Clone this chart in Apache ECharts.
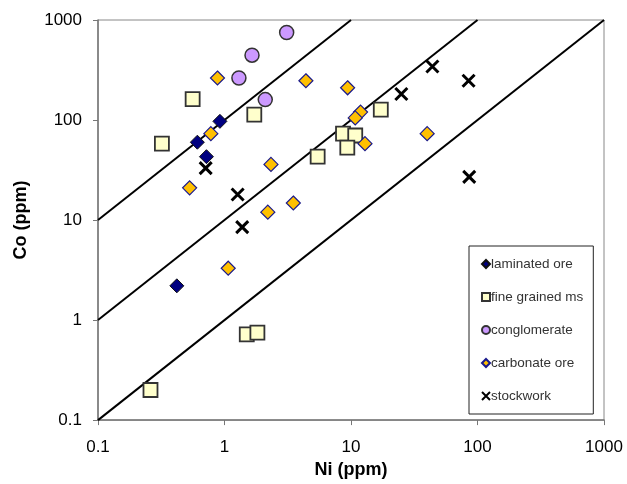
<!DOCTYPE html>
<html>
<head>
<meta charset="utf-8">
<script src="https://cdn.jsdelivr.net/npm/echarts@6/dist/echarts.min.js"></script>
<style>
  html, body { margin: 0; padding: 0; background: #fff; }
  #chart { width: 627px; height: 484px; }
</style>
</head>
<body>
<div id="chart"></div>
<script>
// [Ni, Co] in ppm
const laminatedOre = [[0.92, 97], [0.61, 60], [0.72, 43], [0.42, 2.2]];
const fineGrainedMs = [
  [0.32, 58], [0.56, 162], [1.72, 113], [5.45, 43], [8.65, 73], [10.8, 70],
  [9.35, 53], [17.2, 127], [1.5, 0.72], [1.82, 0.75], [0.26, 0.2]
];
const conglomerate = [[3.1, 750], [1.65, 445], [1.3, 263], [2.1, 160]];
const carbonateOre = [
  [0.88, 263], [4.4, 247], [9.4, 210], [0.78, 73], [2.33, 36], [0.53, 21],
  [3.5, 14.8], [2.2, 12], [1.07, 3.3], [11.9, 120], [10.8, 105], [12.9, 58], [40, 73]
];
const stockwork = [[0.71, 33], [1.27, 18], [1.38, 8.5], [25, 182], [44, 343], [85, 247], [86, 27]];

// reference lines Co/Ni = 100, 10, 1
const ratioLines = [
  [[0.1, 10], [10, 1000]],
  [[0.1, 1], [100, 1000]],
  [[0.1, 0.1], [1000, 1000]]
];

const legendNames = ['laminated ore', 'fine grained ms', 'conglomerate', 'carbonate ore', 'stockwork'];

const chart = echarts.init(document.getElementById('chart'));

const lineSeries = ratioLines.map((pts, i) => ({
  name: 'ratio' + i,
  type: 'line',
  data: pts,
  showSymbol: false,
  silent: true,
  z: 1,
  lineStyle: { color: '#000', width: 2 }
}));

const crossPath = 'path://M0,0L10,10M10,0L0,10';

const option = {
  animation: false,
  textStyle: { fontFamily: 'Liberation Sans, Arial, sans-serif' },
  grid: {
    left: 98, right: 23, top: 20, bottom: 62,
    show: true, borderColor: '#888', borderWidth: 1
  },
  legend: {
    data: legendNames,
    orient: 'vertical',
    left: 469,
    top: 246,
    padding: [11, 10, 11, 12],
    itemGap: 19,
    itemWidth: 8,
    itemHeight: 8,
    backgroundColor: '#fff',
    borderColor: '#222',
    borderWidth: 1,
    textStyle: { fontSize: 13.5, color: '#333', padding: [0, 0, 0, -4] }
  },
  xAxis: {
    type: 'log',
    logBase: 10,
    min: 0.1,
    max: 1000,
    name: 'Ni (ppm)',
    nameLocation: 'middle',
    nameGap: 37,
    nameTextStyle: { fontSize: 18, fontWeight: 'bold', color: '#000' },
    axisLine: { lineStyle: { color: '#777', width: 1.5 } },
    axisTick: { show: true, length: 5, lineStyle: { color: '#777' } },
    axisLabel: {
      fontSize: 17, color: '#000', margin: 19,
      formatter: v => String(v)
    },
    splitLine: { show: false }
  },
  yAxis: {
    type: 'log',
    logBase: 10,
    min: 0.1,
    max: 1000,
    name: 'Co (ppm)',
    nameLocation: 'middle',
    nameGap: 68,
    nameTextStyle: { fontSize: 18, fontWeight: 'bold', color: '#000' },
    axisLine: { lineStyle: { color: '#777', width: 1.5 } },
    axisTick: { show: true, length: 5, lineStyle: { color: '#777' } },
    axisLabel: {
      fontSize: 17, color: '#000', margin: 16,
      formatter: v => String(v)
    },
    splitLine: { show: false }
  },
  series: [
    ...lineSeries,
    {
      name: 'fine grained ms',
      type: 'scatter',
      data: fineGrainedMs,
      symbol: 'rect',
      symbolSize: 14,
      z: 3,
      itemStyle: { color: '#FFFFCC', borderColor: '#333', borderWidth: 1.8, opacity: 1 }
    },
    {
      name: 'conglomerate',
      type: 'scatter',
      data: conglomerate,
      symbol: 'circle',
      symbolSize: 14,
      z: 3,
      itemStyle: { color: '#CC99FF', borderColor: '#333', borderWidth: 1.5, opacity: 1 }
    },
    {
      name: 'carbonate ore',
      type: 'scatter',
      data: carbonateOre,
      symbol: 'diamond',
      symbolSize: 14,
      z: 4,
      itemStyle: { color: '#FFC000', borderColor: '#1a1a8c', borderWidth: 1.2, opacity: 1 }
    },
    {
      name: 'laminated ore',
      type: 'scatter',
      data: laminatedOre,
      symbol: 'diamond',
      symbolSize: 14,
      z: 4,
      itemStyle: { color: '#000080', borderColor: '#111', borderWidth: 1, opacity: 1 }
    },
    {
      name: 'stockwork',
      type: 'scatter',
      data: stockwork,
      symbol: crossPath,
      symbolSize: 12,
      z: 5,
      itemStyle: { color: 'transparent', borderColor: '#000', borderWidth: 3, opacity: 1 }
    }
  ]
};

chart.setOption(option);
</script>
</body>
</html>
